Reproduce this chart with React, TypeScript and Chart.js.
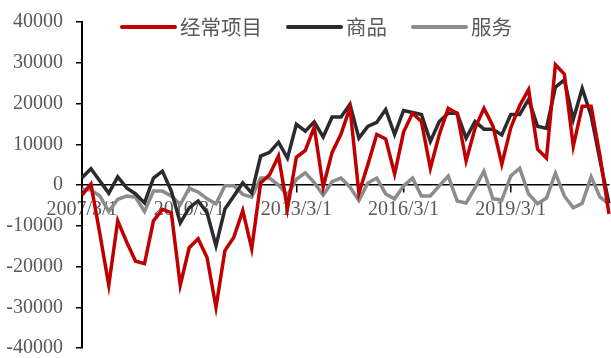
import React, { useEffect, useRef } from "react";
import { Chart, registerables } from "chart.js";

Chart.register(...registerables);

const categories: string[] = [];
for (let y = 2007; y <= 2021; y++) {
  for (const m of [3, 6, 9, 12]) categories.push(`${y}/${m}/1`);
}

const seriesNames = ["经常项目", "商品", "服务"];
const seriesColors = ["#C00000", "#2B2B2F", "#8C8C8C"];

const currentAccount = [
  -2500, 200, -12000, -24600, -8800, -14000, -18700, -19300, -8800, -6000,
  -6800, -24600, -15400, -13200, -17800, -30000, -16100, -12800, -6300, -15600,
  500, 2500, 7100, -5800, 6800, 8500, 14200, -500, 8000, 12500,
  19000, -2000, 5000, 12400, 11300, 2700, 13000, 17600, 15600, 4100,
  12400, 18800, 17600, 5900, 13900, 18800, 14500, 5100, 14000, 19500,
  23400, 8800, 6600, 29500, 27200, 9500, 19300, 19300, 7000, -7100,
];

const goods = [
  1800, 4000, 1000, -2000, 2000, -700, -2200, -4400, 1700, 3400,
  -1500, -9300, -5600, -3900, -6800, -14900, -5900, -2700, 500, -2000,
  7100, 8000, 10500, 6600, 14900, 13200, 15500, 11800, 16700, 16700,
  19800, 11500, 14400, 15400, 18500, 12400, 18300, 17800, 17300, 10700,
  15600, 17600, 17600, 11500, 15600, 13700, 13700, 12300, 17300, 17300,
  21000, 14400, 13900, 24000, 25800, 16100, 23700, 17000, 6000, -4500,
];

const services = [
  -1000, -1200, -2700, -6500, -3500, -2700, -3000, -6500, -1500, -1500,
  -2700, -4800, -800, -1700, -3400, -4600, -200, -200, -2300, -3000,
  1700, 1700, 0, -2500, 1400, 3000, 600, -2500, 800, 1700,
  -500, -3800, 500, 1700, -2200, -3400, -200, 1700, -2700, -2700,
  -200, 2200, -3900, -4400, -700, 3400, -3400, -3700, 2200, 4100,
  -2200, -4600, -3200, 2900, -2700, -5600, -4500, 2000, -3000, -4700,
];

const yMin = -40000;
const yMax = 40000;
const yStep = 10000;
const labelEvery = 12;

const tickFont = { family: "'Liberation Serif', 'Times New Roman', serif", size: 20 };
const tickColor = "#595959";

const legendPlugin = {
  id: "customLegend",
  afterDraw(chart: any) {
    const ctx = chart.ctx;
    ctx.save();
    ctx.font = "20.5px 'Noto Sans CJK SC', sans-serif";
    ctx.textBaseline = "middle";
    let x = 122;
    const y = 27;
    chart.data.datasets.forEach((ds: any) => {
      ctx.strokeStyle = ds.borderColor;
      ctx.lineWidth = 4;
      ctx.lineCap = "round";
      ctx.beginPath();
      ctx.moveTo(x, y);
      ctx.lineTo(x + 53, y);
      ctx.stroke();
      x += 58;
      ctx.fillStyle = tickColor;
      ctx.fillText(ds.label, x, y);
      x += ctx.measureText(ds.label).width + 26;
    });
    ctx.restore();
  },
};

export default function App() {
  const ref = useRef<HTMLCanvasElement>(null);
  useEffect(() => {
    if (!ref.current) return;
    const values = [currentAccount, goods, services];
    const chart = new Chart(ref.current, {
      type: "line",
      data: {
        labels: categories,
        datasets: values.map((v, i) => ({
          label: seriesNames[i],
          data: v,
          borderColor: seriesColors[i],
          backgroundColor: seriesColors[i],
          borderWidth: 3.5,
          pointRadius: 0,
          tension: 0,
          fill: false,
        })),
      },
      options: {
        responsive: false,
        animation: false,
        layout: { padding: { top: 22, bottom: 10, right: 2, left: 0 } },
        plugins: {
          legend: { display: false },
          tooltip: { enabled: false },
        },
        scales: {
          x: {
            type: "category",
            position: { y: 0 } as any,
            offset: false,
            afterFit: (scale: any) => {
              scale.height = 0;
              scale.paddingTop = 0;
              scale.paddingBottom = 0;
            },
            border: { display: true, color: "#000", width: 1.5 },
            grid: { display: true, drawOnChartArea: false, drawTicks: true, tickLength: 7, color: "#000", lineWidth: 1.5 },
            afterBuildTicks: (scale: any) => {
              scale.ticks = scale.ticks.filter((_t: any, i: number) => i % labelEvery === 0);
            },
            ticks: {
              autoSkip: false,
              maxRotation: 0,
              minRotation: 0,
              padding: 6,
              color: tickColor,
              font: tickFont,
              callback: function (this: any, value: any) {
                return categories[value as number];
              },
            },
          },
          y: {
            min: yMin,
            max: yMax,
            afterFit: (scale: any) => {
              scale.width = 82;
              scale.paddingTop = 0;
              scale.paddingBottom = 0;
            },
            border: { display: true, color: "#000", width: 2 },
            grid: { display: true, drawOnChartArea: false, drawTicks: true, tickLength: 6, color: "#000", lineWidth: 1.5 },
            ticks: {
              stepSize: yStep,
              padding: 13,
              color: tickColor,
              font: tickFont,
              callback: (v: any) => String(v),
            },
          },
        },
      },
      plugins: [legendPlugin],
    });
    return () => chart.destroy();
  }, []);
  return (
    <div style={{ position: "absolute", left: 0, top: 0, width: 611, height: 358, background: "#fff" }}>
      <canvas ref={ref} width={611} height={358} />
    </div>
  );
}
